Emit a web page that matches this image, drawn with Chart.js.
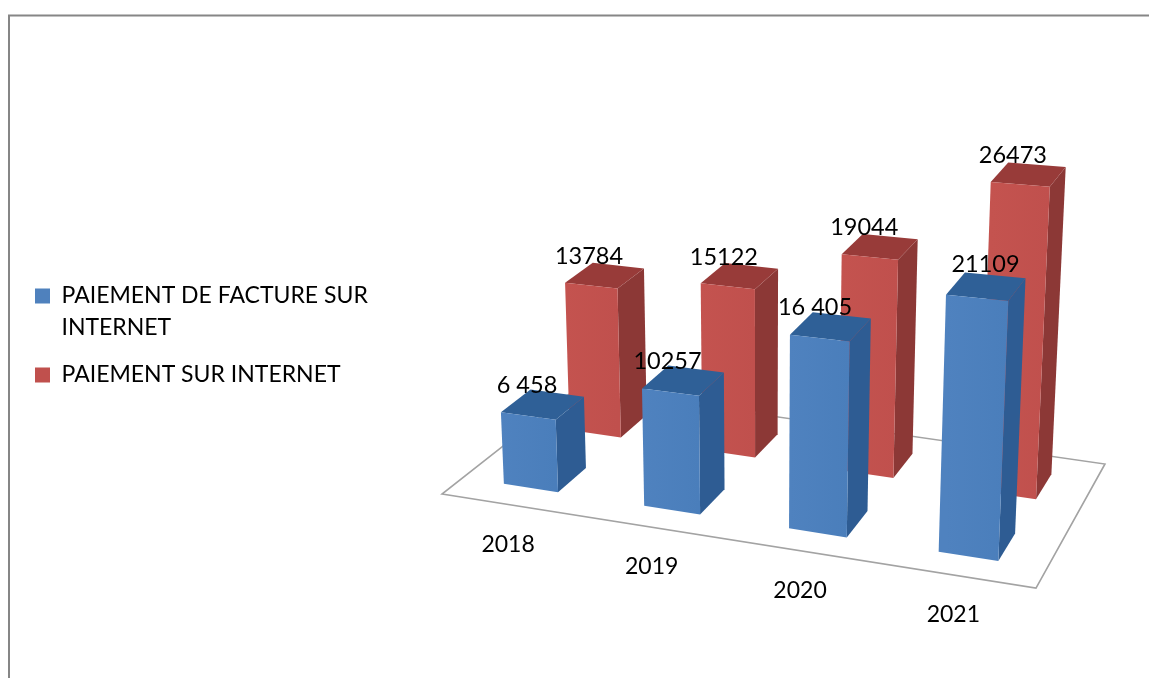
<!DOCTYPE html>
<html>
<head>
<meta charset="utf-8">
<style>
  html, body { margin: 0; padding: 0; background: #fff; }
  canvas { display: block; }
</style>
<script src="https://cdn.jsdelivr.net/npm/chart.js@4"></script>
</head>
<body>
<canvas id="chart" width="1149" height="678"></canvas>
<script>
var years = ['2018', '2019', '2020', '2021'];
var factureValues = [6458, 10257, 16405, 21109];
var internetValues = [13784, 15122, 19044, 26473];
var factureLabels = ['6 458', '10257', '16 405', '21109'];
var internetLabels = ['13784', '15122', '19044', '26473'];
var seriesNames = [['PAIEMENT DE FACTURE SUR', 'INTERNET'], 'PAIEMENT SUR INTERNET'];
var yMax = 30000;

var fontName = 'Lato';
var rowDepth = [[0.14, 0.35], [0.63, 0.85]];
var barShift = -0.002;
var faces = [
  { front: '#4a7ebb', frontEdge: '#4f82bf', side: '#2e5c93', top: '#2f6097' },
  { front: '#c0504d', frontEdge: '#c4534f', side: '#8c3836', top: '#983b39' }
];

// floor of the 3d box, projected from the unit square
var g = -0.0635, h = 0.1333;
function project(u, v, frac) {
  var w = 1 + g * u + h * v;
  var px = (528.2 * u + 211.9 * v + 442) / w;
  var py = (56.7 * u - 54.3 * v + 494) / w;
  var H = 345 * frac / w * (1 + 0.06 * (u - 0.35) + 0.05 * (v - 0.25));
  return { x: px + (px - 760) * 0.00016 * H, y: py - H };
}

function poly(ctx, pts, fill) {
  ctx.beginPath();
  pts.forEach(function (p, i) {
    if (i == 0) ctx.moveTo(p.x, p.y); else ctx.lineTo(p.x, p.y);
  });
  ctx.closePath();
  ctx.fillStyle = fill;
  ctx.fill();
}

var box3d = {
  id: 'box3d',
  beforeDraw: function (chart) {
    var ctx = chart.ctx;
    ctx.save();
    ctx.strokeStyle = '#868686';
    ctx.lineWidth = 2;
    ctx.beginPath();
    ctx.moveTo(9, 678);
    ctx.lineTo(9, 15.5);
    ctx.lineTo(1149, 15.5);
    ctx.stroke();
    ctx.restore();
  },
  beforeDatasetsDraw: function (chart) {
    var ctx = chart.ctx;
    var area = chart.chartArea;
    ctx.save();

    // floor
    ctx.strokeStyle = '#a3a3a3';
    ctx.lineWidth = 1.6;
    ctx.beginPath();
    [[0, 0], [1, 0], [1, 1], [0, 1]].forEach(function (c, i) {
      var p = project(c[0], c[1], 0);
      if (i == 0) ctx.moveTo(p.x, p.y); else ctx.lineTo(p.x, p.y);
    });
    ctx.closePath();
    ctx.stroke();

    // back row first
    [1, 0].forEach(function (d) {
      var bars = chart.getDatasetMeta(d).data;
      var v0 = rowDepth[d][0], v1 = rowDepth[d][1], c = faces[d];
      bars.forEach(function (bar) {
        var u0 = (bar.x - bar.width / 2 - area.left) / area.width + barShift;
        var u1 = (bar.x + bar.width / 2 - area.left) / area.width + barShift;
        var f = (bar.base - bar.y) / area.height;
        var bl = project(u0, v0, 0), br = project(u1, v0, 0), bb = project(u1, v1, 0);
        var tl = project(u0, v0, f), tr = project(u1, v0, f);
        var tbr = project(u1, v1, f), tbl = project(u0, v1, f);
        poly(ctx, [br, bb, tbr, tr], c.side);
        poly(ctx, [tl, tr, tbr, tbl], c.top);
        var grad = ctx.createLinearGradient(tl.x, 0, tr.x, 0);
        grad.addColorStop(0, c.frontEdge);
        grad.addColorStop(1, c.front);
        poly(ctx, [bl, br, tr, tl], grad);
      });
    });

    // value labels above the top faces
    ctx.fillStyle = '#000';
    ctx.font = '23.5px ' + fontName;
    ctx.textAlign = 'center';
    ctx.textBaseline = 'middle';
    [[1, internetLabels], [0, factureLabels]].forEach(function (s) {
      var d = s[0];
      chart.getDatasetMeta(d).data.forEach(function (bar, i) {
        var u = (bar.x - area.left) / area.width;
        var f = (bar.base - bar.y) / area.height;
        var p = project(u, (rowDepth[d][0] + rowDepth[d][1]) / 2, f);
        // the 21109 label sits further right in the original
        var nudge = (d == 0 && i == 3) ? [15, -3] : [0, 0];
        ctx.fillText(s[1][i], p.x - 17 + nudge[0], p.y - 19 + nudge[1]);
      });
    });

    // year labels under the front edge
    ctx.font = '23px ' + fontName;
    var xScale = chart.scales.x;
    years.forEach(function (year, i) {
      var u = (xScale.getPixelForValue(i) - area.left) / area.width;
      var p = project(u, 0, 0);
      ctx.fillText(xScale.getLabelForValue(i), p.x - 4, p.y + 39);
    });

    ctx.restore();
    return false;
  }
};

var myChart = new Chart(document.getElementById('chart').getContext('2d'), {
  type: 'bar',
  data: {
    labels: years,
    datasets: [{
      label: seriesNames[0],
      data: factureValues,
      backgroundColor: '#4f81bd'
    }, {
      label: seriesNames[1],
      data: internetValues,
      backgroundColor: '#c0504d'
    }]
  },
  options: {
    responsive: false,
    animation: false,
    devicePixelRatio: 1,
    grouped: false,
    barPercentage: 0.39,
    categoryPercentage: 1,
    layout: { padding: { left: 20, bottom: 7 } },
    plugins: {
      tooltip: { enabled: false },
      legend: {
        position: 'left',
        labels: {
          boxWidth: 15,
          boxHeight: 15,
          padding: 15,
          color: '#000',
          font: { family: fontName, size: 23, lineHeight: 1.39 }
        }
      }
    },
    scales: {
      x: { display: false },
      y: { display: false, min: 0, max: yMax }
    }
  },
  plugins: [box3d]
});
</script>
</body>
</html>
